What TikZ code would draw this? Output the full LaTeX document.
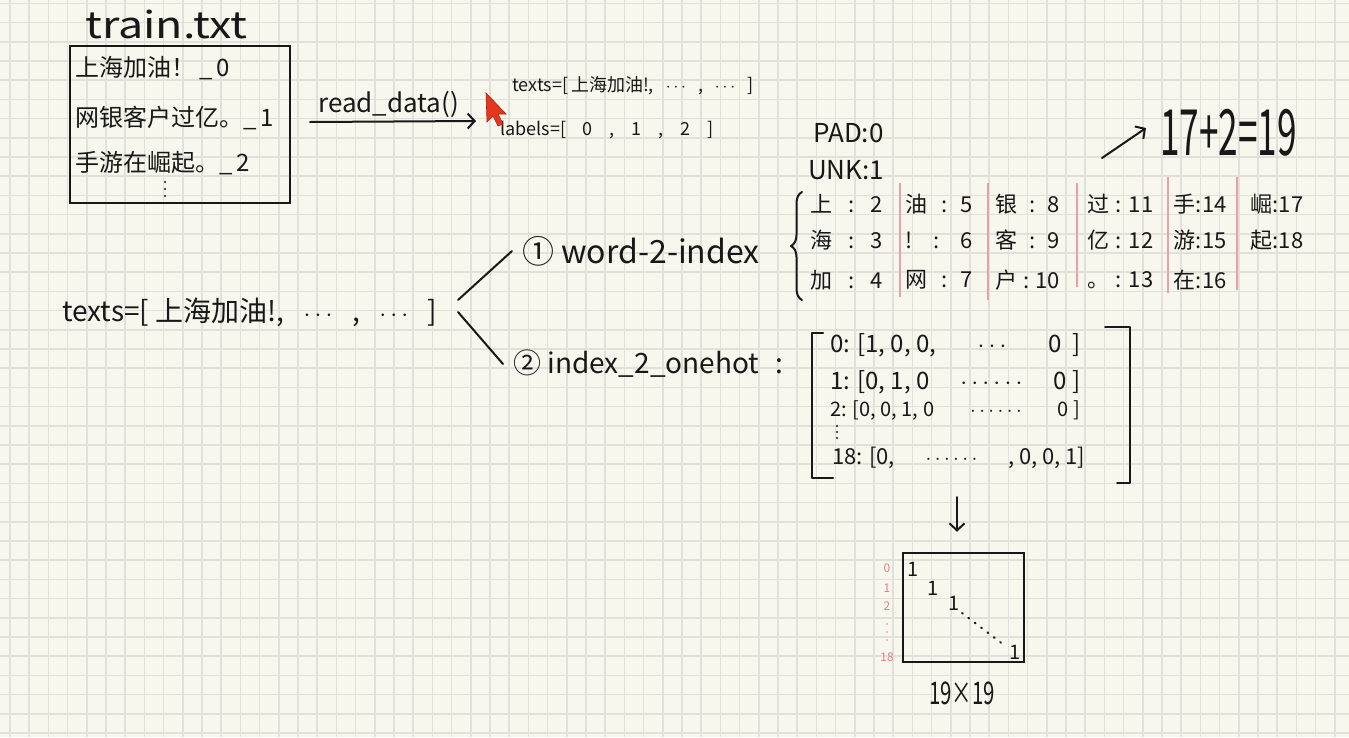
\documentclass[tikz,border=0pt]{standalone}
\usepackage{fontspec}
\usepackage{graphicx}
\setmainfont{Noto Sans CJK SC}
\usetikzlibrary{arrows.meta,decorations.pathreplacing}
\definecolor{paper}{RGB}{247,247,238}
\definecolor{gridc}{RGB}{224,225,218}
\definecolor{ink}{RGB}{24,24,24}
\definecolor{redline}{RGB}{234,160,168}
\definecolor{redtxt}{RGB}{228,128,138}
\definecolor{cursorred}{RGB}{230,55,30}
\newcommand{\fs}[1]{\fontsize{#1}{#1}\selectfont}
\begin{document}
\begin{tikzpicture}[x=1pt,y=-1pt,
  txt/.style={inner sep=0pt, text=ink, anchor=west},
  inkline/.style={draw=ink, line width=2pt, line cap=round, line join=round},
  barb/.style={-{Straight Barb[length=7pt,width=15pt,line width=2pt]}},
  divider/.style={draw=redline, line width=1.2pt},
  redlab/.style={inner sep=0pt, text=redtxt, anchor=center, font=\fs{12}},
  diag/.style={inner sep=0pt, text=ink, anchor=center, font=\fs{20}},
]
\fill[paper] (0,0) rectangle (1349,737);
\useasboundingbox (0,0) rectangle (1349,737);
\foreach \i in {0,...,69} { \draw[gridc, line width=1.6pt] ({10+19.2*\i},0) -- ({10+19.2*\i},737); }
\foreach \j in {0,...,38} { \draw[gridc, line width=1.6pt] (0,{3.3+19.2*\j}) -- (1349,{3.3+19.2*\j}); }

% file
\node[txt, anchor=base west] (title) at (85,38) {\scalebox{1.4}[1.15]{\fs{32}train.txt}};
\node[draw=ink, line width=2pt, minimum width=220pt, minimum height=157pt, inner sep=0pt] (file) at (180,124.5) {};
\node[txt] (l1) at (75,68) {\fs{24}上海加油！\hspace{4pt}\_\,0};
\node[txt] (l2) at (75,118) {\fs{24}网银客户过亿。\_\,1};
\node[txt] (l3) at (75,163) {\fs{24}手游在崛起。\_\,2};
\foreach \yy in {182,189,196} { \fill[ink] (165,\yy) circle (1.2pt); }

% read_data
\node[txt] (rd) at (318,104) {\fs{26}read\_data()};
\coordinate (rdstart) at (310,122);
\node[txt] (texts1) at (512,86) {\fs{18}\hbox to 241pt{texts=[\,上海加油!,\hfill$\cdots$\hfill,\hfill$\cdots$\hfill]}};
\node[txt] (labels1) at (500,130) {\fs{18}\hbox to 213pt{labels=[\hfill0\hfill,\hfill1\hfill,\hfill2\hfill]}};
\draw[inkline, barb] (rdstart) -- ([xshift=-24pt,yshift=9pt]labels1.west);
\fill[cursorred, draw=cursorred!70!black, line width=0.6pt] (486,93) -- (487,122) -- (493,116) -- (498,126) -- (503,124) -- (498,114) -- (506,114) -- cycle;

% texts and branches
\node[txt] (texts2) at (62,312) {\fs{28}\hbox to 375pt{texts=[\ 上海加油!,\hfill$\cdots$\hfill,\hfill$\cdots$\hfill]}};
\coordinate (fork) at (458,306);
\node[txt] (w1) at (512,251) {\fs{32}\hspace{10pt}① word-2-index};
\node[txt] (w2) at (503,364) {\fs{28}\hspace{10pt}② index\_2\_onehot\hspace{16pt}:};
\draw[inkline] ([yshift=6pt]fork) -- (w1.west);
\draw[inkline] ([yshift=-6pt]fork) -- (w2.west);

% vocabulary
\draw[inkline, decorate, decoration={brace, amplitude=11pt}] (802,300) -- (802,192);
\node[txt] (pad) at (813,133) {\fs{26}PAD:0};
\node[txt] (unk) at (808,170) {\fs{26}UNK:1};
\foreach \nm/\x/\y/\w/\ch/\num in {
  v2/810/204/73/上/2, v3/810/240/73/海/3, v4/810/280/73/加/4,
  v5/905/204/68/油/5, v6/905/240/68/!/6, v7/905/280/68/网/7,
  v8/995/204/65/银/8, v9/995/240/65/客/9, v10/995/280/65/户/10,
  v11/1087/204/66/过/11, v12/1087/240/66/亿/12, v13/1087/280/66/。/13,
  v14/1173/204/54/手/14, v15/1173/240/54/游/15, v16/1173/280/54/在/16,
  v17/1250/204/53/崛/17, v18/1250/240/53/起/18}
  { \node[txt] (\nm) at (\x,\y) {\fs{22}\hbox to \w pt{\ch\hfill:\hfill\num}}; }
\draw[divider] (900,183) -- (900,297);
\draw[divider] (988,183) -- (988,300);
\draw[divider] (1077,183) -- (1077,287);
\draw[divider] (1168,177) -- (1168,293);
\draw[divider] (1237,177) -- (1237,290);
\node[txt] (eq) at (1160,133) {\scalebox{0.8}[1.45]{\fs{44}17+2=19}};
\coordinate (arr0) at (1102,158);
\draw[inkline, barb] (arr0) -- ([xshift=-14pt,yshift=5pt]eq.west);

% one-hot matrix
\node[minimum width=318pt, minimum height=156pt, inner sep=0pt] (mat) at (971,405) {};
\node[txt] (r0) at (830,345) {\fs{24}\hbox to 250pt{0: [1, 0, 0,\hfill$\cdots$\hfill 0 \ ]}};
\node[txt] (r1) at (830,382) {\fs{24}\hbox to 250pt{1: [0, 1, 0\hfill$\cdots\cdots$\hfill 0 ]}};
\node[txt] (r2) at (830,410) {\fs{20}\hbox to 250pt{2: [0, 0, 1, 0\hfill$\cdots\cdots$\hfill 0 ]}};
\foreach \yy in {426,432,438} { \fill[ink] (837,\yy) circle (1.1pt); }
\node[txt] (r18) at (832,458) {\fs{22}\hbox to 253pt{18: [0,\hfill$\cdots\cdots$\hfill, 0, 0, 1]}};
\draw[inkline] (823,333) -- (812,333) -- (812,478) -- (833,478);
\draw[inkline] (1105,327) -- (1130,327) -- (1130,483) -- (1117,483);

% identity square
\node[draw=ink, line width=2.5pt, minimum width=121pt, minimum height=109pt, inner sep=0pt] (sq) at (963.5,607.5) {};
\draw[inkline, barb] ([xshift=-14pt,yshift=-14pt]mat.south) -- ([xshift=-6.5pt,yshift=20pt]sq.north);
\node[diag] (d0) at (913,569) {1};
\node[diag] (d1) at (933,588) {1};
\node[diag] (d2) at (954,603) {1};
\node[diag] (d3) at (1015,652) {1};
\draw[ink, line width=2pt, line cap=round, dash pattern=on 1pt off 7pt] (962,613) -- (1004,645);
\node[redlab] (c0) at (887,568) {0};
\node[redlab] (c1) at (887,588) {1};
\node[redlab] (c2) at (887,606) {2};
\foreach \yy in {624,632,640} { \fill[redtxt] (887,\yy) circle (0.9pt); }
\node[redlab] (c18) at (887,657) {18};
\node[txt, anchor=center] (dim) at (962,693) {\scalebox{0.85}[1.3]{\fs{24}19×19}};
\end{tikzpicture}
\end{document}
